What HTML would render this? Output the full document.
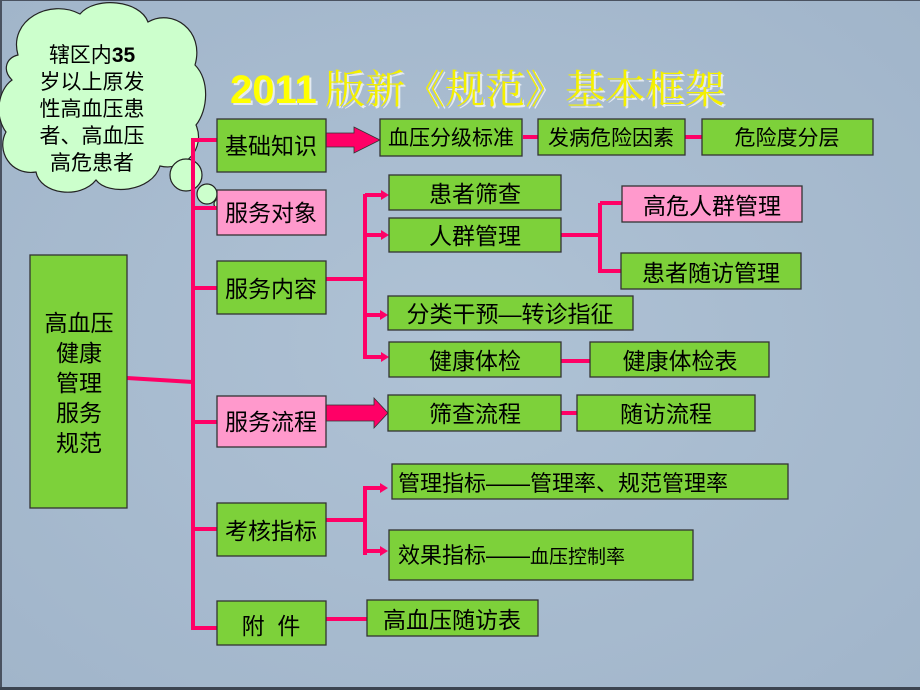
<!DOCTYPE html>
<html><head><meta charset="utf-8"><style>
html,body{margin:0;padding:0;background:#a9bccf;}
svg{display:block}
text{font-family:"Liberation Sans","Noto Sans CJK SC",sans-serif;fill:#000;}
.ser{font-family:"Liberation Serif","Noto Serif CJK SC",serif;}
</style></head><body>
<svg width="920" height="690" viewBox="0 0 920 690" xmlns="http://www.w3.org/2000/svg">
<defs>
<radialGradient id="bg" cx="50%" cy="50%" r="70%"><stop offset="0" stop-color="#afc2d5"/><stop offset="1" stop-color="#a1b5ca"/></radialGradient>
</defs>
<rect width="920" height="690" fill="url(#bg)"/>
<rect x="0" y="0" width="2" height="690" fill="#4a5260"/>
<rect x="0" y="0" width="920" height="1" fill="#4a5260"/>
<rect x="0" y="687" width="920" height="3" fill="#3c4450"/>

<!-- title -->
<text x="230" y="103" font-size="40" font-weight="bold" style="fill:#ffffff" opacity="0.7" transform="translate(2,2)">2011</text>
<text x="230" y="103" font-size="40" font-weight="bold" style="fill:#ffff00">2011</text>
<text class="ser" x="325" y="103" font-size="40" style="fill:#ffffff" opacity="0.7" transform="translate(2,2)">版新《规范》基本框架</text>
<text class="ser" x="325" y="103" font-size="40" style="fill:#f4f000">版新《规范》基本框架</text>

<!-- cloud -->
<g fill="#ccffcc" stroke="#222" stroke-width="1.2">
<path d="M18,55 C8,20 50,-2 80,14 C95,-4 140,0 148,22 C172,8 205,30 195,65 C210,80 208,110 196,125 C206,148 185,172 160,166 C152,192 108,196 96,180 C80,200 40,194 36,172 C10,176 -4,150 6,132 C-6,116 -2,90 12,80 C2,70 6,58 18,55 Z"/>
<circle cx="186" cy="175" r="16"/>
<circle cx="207" cy="194" r="10"/>
<circle cx="219" cy="204" r="5"/>
</g>
<g font-size="21" text-anchor="middle">
<text x="92" y="62"><tspan>辖区内</tspan><tspan font-weight="bold">35</tspan></text>
<text x="92" y="89">岁以上原发</text>
<text x="92" y="116">性高血压患</text>
<text x="92" y="143">者、高血压</text>
<text x="92" y="170">高危患者</text>
</g>

<!-- pink connectors -->
<g stroke="#ff0066" stroke-width="4" fill="none">
<line x1="193" y1="138" x2="193" y2="630"/>
<line x1="127" y1="378" x2="193" y2="382"/>
<line x1="193" y1="140" x2="217" y2="140"/>
<line x1="193" y1="208" x2="217" y2="208"/>
<line x1="193" y1="288" x2="217" y2="288"/>
<line x1="193" y1="422" x2="217" y2="422"/>
<line x1="193" y1="529" x2="217" y2="529"/>
<line x1="193" y1="628" x2="217" y2="628"/>
<line x1="326" y1="279" x2="365" y2="279"/>
<line x1="365" y1="194" x2="365" y2="359"/>
<line x1="365" y1="195" x2="383" y2="195"/>
<line x1="365" y1="235" x2="383" y2="235"/>
<line x1="365" y1="315" x2="383" y2="315"/>
<line x1="365" y1="357" x2="383" y2="357"/>
<line x1="561" y1="235" x2="600" y2="235"/>
<line x1="600" y1="203" x2="600" y2="273"/>
<line x1="600" y1="203" x2="622" y2="203"/>
<line x1="600" y1="271" x2="621" y2="271"/>
<line x1="561" y1="361" x2="590" y2="361"/>
<line x1="523" y1="137" x2="538" y2="137"/>
<line x1="685" y1="137" x2="702" y2="137"/>
<line x1="561" y1="413" x2="577" y2="413"/>
<line x1="326" y1="520" x2="365" y2="520"/>
<line x1="365" y1="486" x2="365" y2="555"/>
<line x1="365" y1="488" x2="382" y2="488"/>
<line x1="365" y1="551" x2="382" y2="551"/>
<line x1="326" y1="619" x2="367" y2="619"/>
</g>
<g fill="#ff0066">
<polygon points="381,190 389,195 381,200"/>
<polygon points="381,230 389,235 381,240"/>
<polygon points="380,310 388,315 380,320"/>
<polygon points="381,352 389,357 381,362"/>
<polygon points="380,483 388,488 380,493"/>
<polygon points="380,546 388,551 380,556"/>
</g>
<g fill="#ff0066" stroke="#333" stroke-width="0.8">
<polygon points="326,133 354,133 354,127 380,140 354,153 354,147 326,147"/>
<polygon points="326,405 374,405 374,398 388,413 374,428 374,421 326,421"/>
</g>

<!-- boxes -->
<g stroke="#333" stroke-width="1.3">
<rect x="30" y="255" width="97" height="253" fill="#7dd13a"/>
<rect x="217" y="119" width="109" height="53" fill="#7dd13a"/>
<rect x="217" y="190" width="109" height="45" fill="#ff99cc"/>
<rect x="217" y="261" width="109" height="53" fill="#7dd13a"/>
<rect x="217" y="396" width="109" height="51" fill="#ff99cc"/>
<rect x="217" y="503" width="109" height="53" fill="#7dd13a"/>
<rect x="217" y="601" width="109" height="44" fill="#7dd13a"/>
<rect x="380" y="119" width="142" height="37" fill="#7dd13a"/>
<rect x="538" y="119" width="147" height="36" fill="#7dd13a"/>
<rect x="702" y="119" width="171" height="36" fill="#7dd13a"/>
<rect x="389" y="175" width="172" height="35" fill="#7dd13a"/>
<rect x="389" y="218" width="172" height="34" fill="#7dd13a"/>
<rect x="388" y="296" width="245" height="34" fill="#7dd13a"/>
<rect x="389" y="342" width="172" height="35" fill="#7dd13a"/>
<rect x="622" y="186" width="180" height="36" fill="#ff99cc"/>
<rect x="621" y="253" width="180" height="36" fill="#7dd13a"/>
<rect x="590" y="342" width="179" height="35" fill="#7dd13a"/>
<rect x="388" y="395" width="173" height="36" fill="#7dd13a"/>
<rect x="577" y="395" width="178" height="36" fill="#7dd13a"/>
<rect x="392" y="464" width="396" height="35" fill="#7dd13a"/>
<rect x="389" y="530" width="304" height="50" fill="#7dd13a"/>
<rect x="367" y="600" width="171" height="36" fill="#7dd13a"/>
</g>

<g font-size="23" text-anchor="middle">
<text x="79" y="331">高血压</text>
<text x="79" y="361">健康</text>
<text x="79" y="391">管理</text>
<text x="79" y="421">服务</text>
<text x="79" y="451">规范</text>
<text x="271" y="154">基础知识</text>
<text x="271" y="221">服务对象</text>
<text x="271" y="297">服务内容</text>
<text x="271" y="430">服务流程</text>
<text x="271" y="539">考核指标</text>
<text x="271" y="634">附&#160;&#160;件</text>
<text x="475" y="202">患者筛查</text>
<text x="475" y="244">人群管理</text>
<text x="510" y="322">分类干预—转诊指征</text>
<text x="475" y="369">健康体检</text>
<text x="712" y="214">高危人群管理</text>
<text x="711" y="281">患者随访管理</text>
<text x="680" y="369">健康体检表</text>
<text x="475" y="422">筛查流程</text>
<text x="666" y="422">随访流程</text>
<text x="452" y="628">高血压随访表</text>
</g>
<g font-size="21" text-anchor="middle">
<text x="451" y="145">血压分级标准</text>
<text x="611" y="145">发病危险因素</text>
<text x="787" y="145">危险度分层</text>
</g>
<text x="398" y="491" font-size="22">管理指标——管理率、规范管理率</text>
<text x="398" y="563" font-size="22">效果指标——<tspan font-size="19">血压控制率</tspan></text>
</svg>
</body></html>
